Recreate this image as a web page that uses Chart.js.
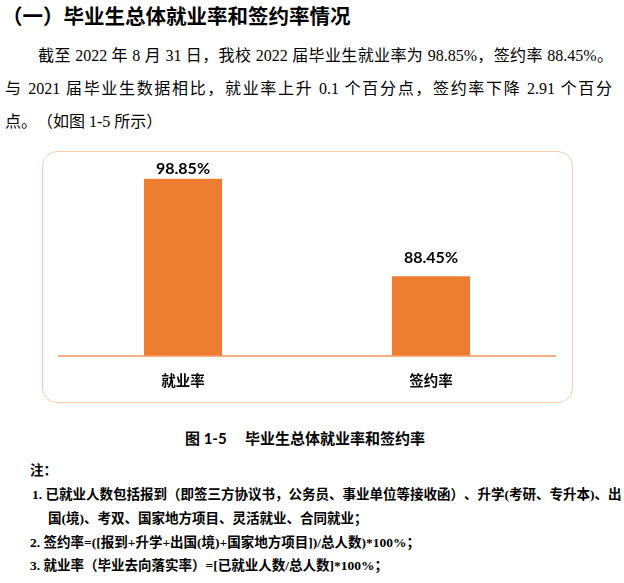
<!DOCTYPE html>
<html>
<head>
<meta charset="utf-8">
<script src="https://cdn.jsdelivr.net/npm/chart.js@4/dist/chart.umd.min.js"></script>
<style>
  html, body { margin: 0; padding: 0; background: #fff; }
  #page { position: relative; width: 624px; height: 583px; overflow: hidden; color: #000;
          text-spacing-trim: space-all; }
  .abs { position: absolute; white-space: nowrap; }
  .h1 { font: bold 20.5px/24px "Noto Sans CJK SC", sans-serif; left: 2px; top: 3px; }
  .p { font: 16px/20px "Liberation Serif", "Noto Sans CJK SC", serif; }
  .just { text-align: justify; text-align-last: justify; }
  .cap { font: bold 15px/18px "Lato", "Noto Sans CJK SC", sans-serif; top: 429px; }
  .note { font: bold 13.5px/18px "Liberation Serif", "Noto Sans CJK SC", serif; }
  #box { position: absolute; left: 42px; top: 151px; width: 531px; height: 252px;
         box-sizing: border-box; border: 1.5px solid #f8cbad; border-radius: 15px; }
  #chart { position: absolute; left: 43px; top: 152px; }
</style>
</head>
<body>
<div id="page">
  <div class="abs h1">（一）毕业生总体就业率和签约率情况</div>

  <div class="abs p just" style="left:38px; top:46px; width:575px;">截至 2022 年 8 月 31 日，我校 2022 届毕业生就业率为 98.85%，签约率 88.45%。</div>
  <div class="abs p just" style="left:5px; top:79px; width:607px;">与 2021 届毕业生数据相比，就业率上升 0.1 个百分点，签约率下降 2.91 个百分</div>
  <div class="abs p" style="left:5px; top:112px;">点。（如图 1-5 所示）</div>

  <div id="box"></div>
  <canvas id="chart" width="530" height="265"></canvas>

  <div class="abs cap" style="left:185px;">图 1-5</div>
  <div class="abs cap" style="left:245px;">毕业生总体就业率和签约率</div>

  <div class="abs note" style="left:30px; top:462px;">注：</div>
  <div class="abs note just" style="left:32px; top:486px; width:579px;">1. 已就业人数包括报到（即签三方协议书，公务员、事业单位等接收函）、升学(考研、专升本)、出</div>
  <div class="abs note" style="left:48px; top:510px;">国(境)、考双、国家地方项目、灵活就业、合同就业；</div>
  <div class="abs note" style="left:30px; top:534px;">2. 签约率=([报到+升学+出国(境)+国家地方项目])/总人数)*100%；</div>
  <div class="abs note" style="left:30px; top:557px;">3. 就业率（毕业去向落实率）=[已就业人数/总人数]*100%；</div>
</div>

<script>
// data
const categories = ['就业率', '签约率'];
const rates = [98.85, 88.45];
const yMin = 80;
const yMax = 100;

const barColor = '#ED7D31';
const lineColor = '#F4B183';

// value labels above bars, kept inside the plot like Excel does
const valueLabels = {
  id: 'valueLabels',
  afterDatasetsDraw(chart) {
    const ctx = chart.ctx;
    const area = chart.chartArea;
    const meta = chart.getDatasetMeta(0);
    ctx.save();
    ctx.font = 'bold 16px Lato, sans-serif';
    ctx.fillStyle = '#000';
    ctx.textAlign = 'center';
    ctx.textBaseline = 'alphabetic';
    meta.data.forEach((bar, i) => {
      const y = Math.max(bar.y - 13, area.top + 5.5);
      ctx.fillText(rates[i].toFixed(2) + '%', bar.x, y);
    });
    ctx.restore();
  }
};

new Chart(document.getElementById('chart'), {
  type: 'bar',
  data: {
    labels: categories,
    datasets: [{
      data: rates,
      backgroundColor: barColor,
      borderWidth: 0,
      categoryPercentage: 1,
      barPercentage: 0.315
    }]
  },
  options: {
    responsive: false,
    animation: false,
    devicePixelRatio: 1,
    layout: { padding: { left: 16, right: 18, top: 16, bottom: 12 } },
    plugins: { legend: { display: false }, tooltip: { enabled: false } },
    scales: {
      x: {
        grid: { display: false, drawTicks: false },
        border: { display: true, color: lineColor, width: 2 },
        ticks: {
          color: '#000',
          padding: 16,
          font: { family: '"Noto Sans CJK SC", sans-serif', size: 14.5, weight: 'bold' }
        }
      },
      y: { display: false, min: yMin, max: yMax }
    }
  },
  plugins: [valueLabels]
});
</script>
</body>
</html>
